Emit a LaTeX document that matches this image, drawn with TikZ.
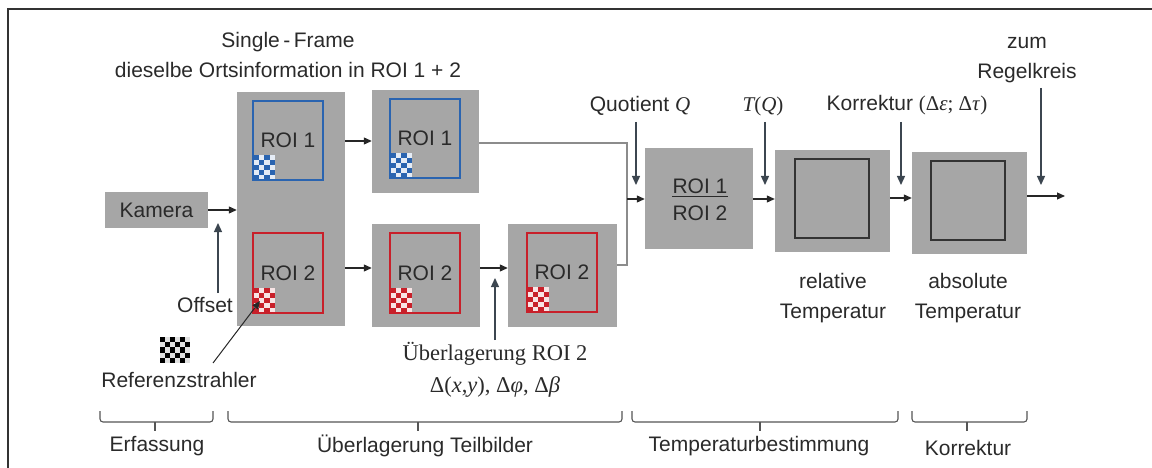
\documentclass[tikz,border=0pt]{standalone}
\usepackage{fontspec}
\setmainfont{Liberation Sans}
\newfontfamily\serifont{Liberation Serif}
\usetikzlibrary{arrows.meta,calc}
\definecolor{boxgray}{HTML}{A6A6A6}
\definecolor{roiblue}{HTML}{2A64B0}
\definecolor{roired}{HTML}{C8202A}
\definecolor{txt}{HTML}{2A2A2A}
\definecolor{lblarrow}{HTML}{3C4650}
\definecolor{linegray}{HTML}{8C8C8C}
\definecolor{bracegray}{HTML}{555555}
% #1 x0, #2 y0 (top), #3 cols, #4 rows, #5 cell w, #6 cell h, #7 colour
\newcommand\mychecker[7]{%
  \fill[#7!12] (#1,#2) rectangle ++({#3*#5},{#4*#6});
  \foreach \i in {1,...,#3}{\foreach \j in {1,...,#4}{%
    \pgfmathtruncatemacro\ckp{mod(\i+\j,2)}%
    \ifnum\ckp=0 \fill[#7] ({#1+(\i-1)*#5},{#2+(\j-1)*#6}) rectangle ++(#5,#6);\fi}}}
\begin{document}
\begin{tikzpicture}[x=1pt,y=-1pt, font=\fontsize{21}{30}\selectfont, text=txt,
  graybox/.style={fill=boxgray, inner sep=0pt},
  roibox/.style={draw=#1, line width=1.3pt, inner sep=0pt, minimum width=70pt, minimum height=79pt},
  innerbox/.style={draw=black!80, line width=1.5pt, inner sep=0pt, minimum width=74pt, minimum height=79pt},
  flow/.style={draw=black!85, line width=1.1pt, -{Triangle[length=8pt,width=7pt]}},
  lblarr/.style={draw=lblarrow, line width=1.3pt, -{Triangle[length=9pt,width=8pt]}},
  feed/.style={draw=linegray, line width=1.1pt},
  lbl/.style={inner sep=0pt, align=center},
  brace/.style={draw=bracegray, line width=1.1pt, rounded corners=3pt},
  tick/.style={draw=bracegray, line width=1.1pt}]
\useasboundingbox (0,0) rectangle (1152,468);
\draw[draw=black!80, line width=1.3pt] (8,9) rectangle (1175,490);

% grey blocks
\node[graybox, minimum width=103pt, minimum height=36pt] (kamera) at (156.5,210) {Kamera};
\node[graybox, minimum width=108pt, minimum height=234pt] (big) at (291,209) {};
\node[graybox, minimum width=107pt, minimum height=103pt] (b2t) at (425.5,141.5) {};
\node[graybox, minimum width=108pt, minimum height=103pt] (b2b) at (426,275.5) {};
\node[graybox, minimum width=109pt, minimum height=103pt] (b3) at (562.5,275.5) {};
\node[graybox, minimum width=108pt, minimum height=101pt] (quot) at (699,198.5) {};
\node[graybox, minimum width=115pt, minimum height=102pt] (rel) at (832.5,201) {};
\node[graybox, minimum width=115pt, minimum height=102pt] (abs) at (969.5,203) {};

% checker patterns
\mychecker{253}{155}{4}{5}{5.5}{5}{roiblue}
\mychecker{390}{153}{4}{5}{5.5}{5}{roiblue}
\mychecker{253}{288}{4}{5}{5.5}{5}{roired}
\mychecker{390}{288}{4}{5}{5.5}{5}{roired}
\mychecker{527}{287}{4}{5}{5.5}{5}{roired}
\mychecker{160}{337}{6}{5}{5}{5.2}{black}

% ROI frames
\node[roibox=roiblue] (r1a) at (288,140.5) {ROI 1};
\node[roibox=roired, minimum height=80pt] (r2a) at (288,273) {ROI 2};
\node[roibox=roiblue] (r1b) at (425,138.5) {ROI 1};
\node[roibox=roired, minimum height=80pt] (r2b) at (425,273) {ROI 2};
\node[roibox=roired] (r2c) at (562,272.5) {ROI 2};
\node[innerbox] (relin) at (832,198.5) {};
\node[innerbox] (absin) at (968,200.5) {};

% fraction
\node[lbl] (f1) at (700,186) {ROI 1};
\node[lbl] (f2) at (700,213) {ROI 2};
\draw[line width=1.1pt, draw=txt] ([yshift=-3pt]f1.south west) -- ([yshift=-3pt]f1.south east);

% labels
\node[lbl] (sf) at (288,55) {Single\,-\,Frame\\dieselbe Ortsinformation in ROI 1 + 2};
\node[lbl] (qlab) at (640,106) {Quotient {\serifont\itshape Q}};
\node[lbl] (tlab) at (763,106) {{\serifont\itshape T}{\serifont(}{\serifont\itshape Q}{\serifont)}};
\node[lbl] (klab) at (907,105) {Korrektur {\serifont(Δ\textit{ε}; Δ\textit{τ})}};
\node[lbl] (zlab) at (1027,60) {zum\\Regelkreis};
\node[lbl] (rellab) at (833,298) {relative\\Temperatur};
\node[lbl] (abslab) at (968,298) {absolute\\Temperatur};
\node[lbl] (olab) at (205,305) {Offset};
\node[lbl] (rlab) at (179,380) {Referenzstrahler};
\node[lbl, font=\serifont\fontsize{22.5}{32}\selectfont] (ulab) at (495,370)
  {Überlagerung ROI 2\\Δ(\textit{x},\textit{y}), Δ\textit{φ}, Δ\textit{β}};

% flow connectors
\coordinate (row1) at (0,141);
\coordinate (row1b) at (0,143);
\coordinate (row2) at (0,268);
\coordinate (row3) at (0,265);
\coordinate (row4) at (0,198);
\coordinate (j) at (627,199);
\coordinate (outp) at (1065,196);
\draw[flow] (kamera.east) -- (kamera.east -| big.west);
\draw[flow] (big.east |- row1) -- (b2t.west |- row1);
\draw[flow] (big.east |- row2) -- (b2b.west |- row2);
\draw[flow] (b2b.east |- row2) -- (b3.west |- row2);
\draw[feed] (b2t.east |- row1b) -| (j);
\draw[feed] (b3.east |- row3) -| (j);
\draw[flow] (j) -- (quot.west |- j);
\draw[flow] (quot.east |- j) -- (rel.west |- j);
\draw[flow] (rel.east |- row4) -- (abs.west |- row4);
\draw[flow] (abs.east |- outp) -- (outp);

% label arrows
\coordinate (qs) at (636,122); \coordinate (qe) at (636,185);
\coordinate (ts) at (765,122); \coordinate (te) at (765,185);
\coordinate (ks) at (901,122); \coordinate (ke) at (901,185);
\coordinate (zs) at (1041,88); \coordinate (ze) at (1041,185);
\coordinate (os) at (218,293); \coordinate (oe) at (218,223);
\coordinate (us) at (495,340); \coordinate (ue) at (495,278);
\coordinate (rs) at (213,363); \coordinate (re) at (260,301);
\draw[lblarr] (qs) -- (qe);
\draw[lblarr] (ts) -- (te);
\draw[lblarr] (ks) -- (ke);
\draw[lblarr] (zs) -- (ze);
\draw[lblarr] (os) -- (oe);
\draw[lblarr] (us) -- (ue);
\draw[draw=black!85, line width=1pt, -{Triangle[length=8pt,width=7pt]}] (rs) -- (re);

% braces
\draw[brace] (100,411) -- (100,422) -- (213,422) -- (213,411);
\draw[tick] (155,422) -- (155,431);
\draw[brace] (228,411) -- (228,422) -- (622,422) -- (622,411);
\draw[tick] (418,422) -- (418,431);
\draw[brace] (632,411) -- (632,422) -- (898,422) -- (898,411);
\draw[tick] (760,422) -- (760,431);
\draw[brace] (912,411) -- (912,422) -- (1027,422) -- (1027,411);
\draw[tick] (967,422) -- (967,431);
\node[lbl] (bl1) at (157,446) {Erfassung};
\node[lbl] (bl2) at (425,446) {Überlagerung Teilbilder};
\node[lbl] (bl3) at (759,446) {Temperaturbestimmung};
\node[lbl] (bl4) at (968,448) {Korrektur};
\end{tikzpicture}
\end{document}
